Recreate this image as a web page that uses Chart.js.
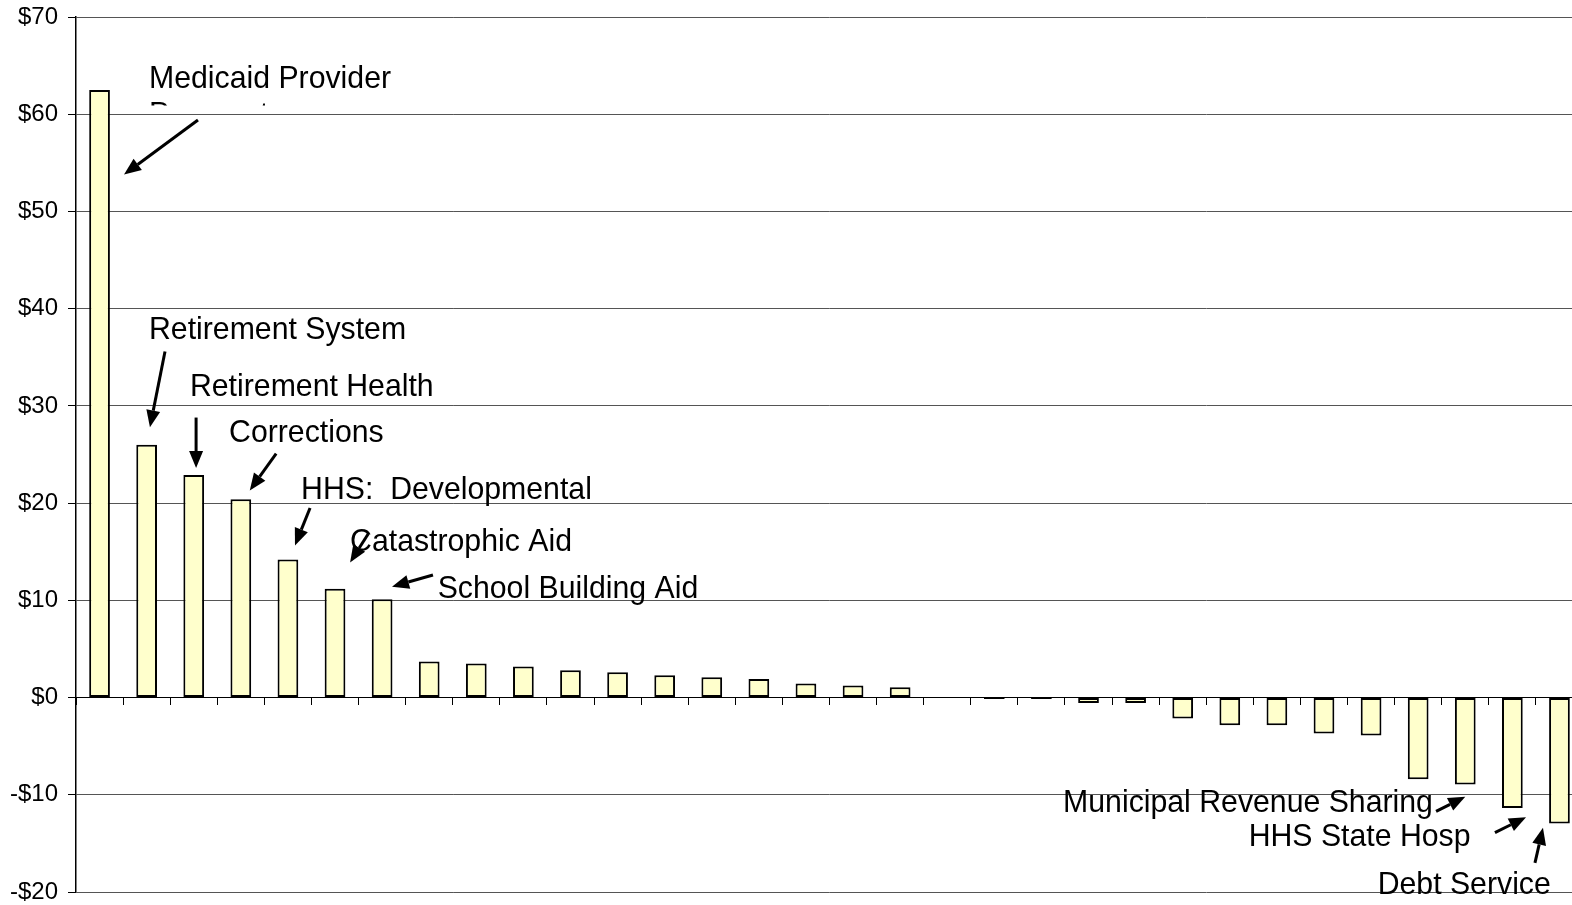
<!DOCTYPE html>
<html>
<head>
<meta charset="utf-8">
<script src="https://cdn.jsdelivr.net/npm/chart.js@4.4.0/dist/chart.umd.min.js"></script>
<style>
    html, body { margin: 0; padding: 0; background: #fff; overflow: hidden; }
    #wrap { position: relative; width: 1586px; height: 905px; }
</style>
</head>
<body>
<div id="wrap"><canvas id="changeChart"></canvas></div>
<script>
// spending change by line item, $ millions
const categories = [
    'Medicaid Provider Payments', 'Retirement System', 'Retirement Health', 'Corrections',
    'HHS: Developmental', 'Catastrophic Aid', 'School Building Aid', 'Item 8',
    'Item 9', 'Item 10', 'Item 11', 'Item 12', 'Item 13', 'Item 14', 'Item 15', 'Item 16',
    'Item 17', 'Item 18', 'Item 19', 'Item 20', 'Item 21', 'Item 22', 'Item 23', 'Item 24',
    'Item 25', 'Item 26', 'Item 27', 'Item 28', 'Item 29', 'Municipal Revenue Sharing',
    'HHS State Hosp', 'Debt Service'
];
const changeValues = [
    62.5, 26.0, 22.9, 20.4, 14.2, 11.2, 10.1, 3.7,
    3.5, 3.2, 2.8, 2.6, 2.3, 2.1, 1.9, 1.45,
    1.25, 1.05, 0, -0.15, -0.15, -0.55, -0.55, -2.15,
    -2.85, -2.85, -3.7, -3.9, -8.4, -8.95, -11.35, -12.95
];
const yTicks = [-20, -10, 0, 10, 20, 30, 40, 50, 60, 70];

// callouts: text anchor, arrow start, arrow tip -- in [category index, value]
const callouts = [
    { text: 'Medicaid Provider', at: [1.05, 62.7], from: [2.09, 59.4], to: [0.52, 53.8] },
    { text: 'Payments', at: [1.05, 59.0], clipAbove: 60.9 },
    { text: 'Retirement System', at: [1.05, 36.9], from: [1.39, 35.6], to: [1.07, 27.8] },
    { text: 'Retirement Health', at: [1.92, 31.0], from: [2.05, 28.8], to: [2.05, 23.6] },
    { text: 'Corrections', at: [2.75, 26.3], from: [3.75, 25.1], to: [3.19, 21.3] },
    { text: 'HHS:  Developmental', at: [4.28, 20.4], from: [4.47, 19.5], to: [4.15, 15.65] },
    { text: 'Catastrophic Aid', at: [5.32, 15.1], from: [5.70, 16.8], to: [5.32, 13.9] },
    { text: 'School Building Aid', at: [7.18, 10.2], from: [7.08, 12.6], to: [6.21, 11.4] },
    { text: 'Municipal Revenue Sharing', at: [20.46, -11.8], from: [28.38, -11.7], to: [29.0, -10.2] },
    { text: 'HHS State Hosp', at: [24.4, -15.3], from: [29.63, -13.9], to: [30.29, -12.3] },
    { text: 'Debt Service', at: [27.14, -20.2], from: [30.48, -17.0], to: [30.65, -13.4] }
];

function drawArrow(ctx, x1, y1, x2, y2) {
    const ang = Math.atan2(y2 - y1, x2 - x1);
    const head = 17, half = 7;
    const bx = x2 - head * Math.cos(ang), by = y2 - head * Math.sin(ang);
    ctx.beginPath();
    ctx.moveTo(x1, y1);
    ctx.lineTo(bx, by);
    ctx.lineWidth = 3;
    ctx.stroke();
    ctx.beginPath();
    ctx.moveTo(x2, y2);
    ctx.lineTo(bx + half * Math.sin(ang), by - half * Math.cos(ang));
    ctx.lineTo(bx - half * Math.sin(ang), by + half * Math.cos(ang));
    ctx.closePath();
    ctx.fill();
}

function drawLabel(ctx, text, x, y) {
    // text in the original is slightly narrow
    ctx.save();
    ctx.translate(x, y);
    ctx.scale(0.945, 1);
    ctx.fillText(text, 0, 0);
    ctx.restore();
}

const calloutPlugin = {
    id: 'callouts',
    afterDatasetsDraw(chart) {
        const ctx = chart.ctx, xs = chart.scales.x, ys = chart.scales.y;
        ctx.save();
        ctx.fillStyle = '#000';
        ctx.strokeStyle = '#000';
        ctx.font = '32px "Liberation Sans", Arial, sans-serif';
        ctx.textAlign = 'left';
        ctx.textBaseline = 'alphabetic';
        callouts.forEach(c => {
            const tx = xs.getPixelForValue(c.at[0]), ty = ys.getPixelForValue(c.at[1]);
            if (c.clipAbove !== undefined) {
                ctx.save();
                ctx.beginPath();
                ctx.rect(0, 0, chart.width, ys.getPixelForValue(c.clipAbove));
                ctx.clip();
                drawLabel(ctx, c.text, tx, ty);
                ctx.restore();
            } else {
                drawLabel(ctx, c.text, tx, ty);
            }
            if (c.from) {
                drawArrow(ctx,
                    xs.getPixelForValue(c.from[0]), ys.getPixelForValue(c.from[1]),
                    xs.getPixelForValue(c.to[0]), ys.getPixelForValue(c.to[1]));
            }
        });
        ctx.restore();
    }
};

function build() {
    const ctx = document.getElementById('changeChart').getContext('2d');
    new Chart(ctx, {
        type: 'bar',
        data: {
            labels: categories,
            datasets: [{
                data: changeValues,
                backgroundColor: '#FFFFCC',
                borderColor: '#000',
                borderWidth: 2,
                borderSkipped: false,
                barPercentage: 0.44,
                categoryPercentage: 1
            }]
        },
        options: {
            responsive: true,
            maintainAspectRatio: false,
            animation: false,
            layout: { padding: { top: 17, right: 3, bottom: 13, left: 0 } },
            plugins: {
                legend: { display: false },
                tooltip: { enabled: false }
            },
            scales: {
                x: {
                    position: { y: 0 },
                    offset: true,
                    grid: {
                        offset: true,
                        drawOnChartArea: false,
                        drawTicks: true,
                        tickLength: 7,
                        color: '#000'
                    },
                    border: { color: '#000', width: 1 },
                    ticks: { display: false, autoSkip: false }
                },
                y: {
                    min: yTicks[0],
                    max: yTicks[yTicks.length - 1],
                    afterBuildTicks: s => { s.ticks = yTicks.map(v => ({ value: v })); },
                    afterFit: s => {
                        s.width = 76;
                        s.paddingTop = 0;
                        s.paddingBottom = 0;
                    },
                    grid: { color: '#555', tickColor: '#000', tickLength: 8 },
                    border: { color: '#000', width: 1.5 },
                    ticks: {
                        padding: 10,
                        color: '#000',
                        font: { family: '"Liberation Sans", Arial, sans-serif', size: 24 },
                        callback: v => (v < 0 ? '-$' + Math.abs(v) : '$' + v)
                    }
                }
            }
        },
        plugins: [calloutPlugin]
    });
}

document.fonts.load('32px "Liberation Sans"').then(build, build);
</script>
</body>
</html>
